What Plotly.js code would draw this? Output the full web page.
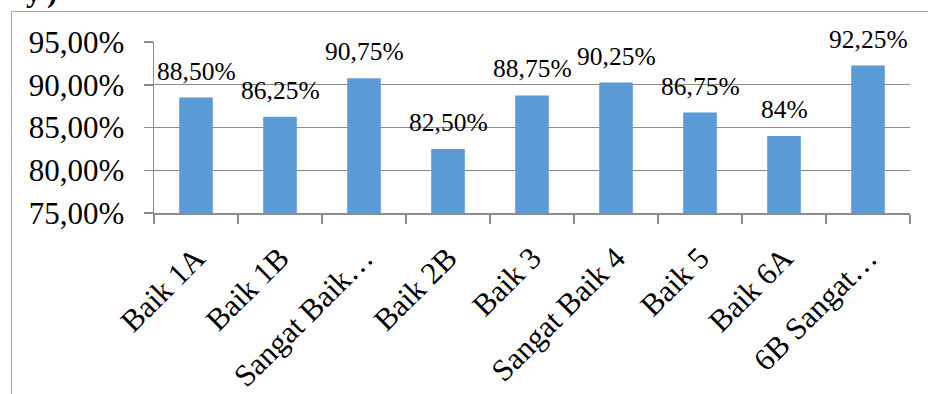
<!DOCTYPE html>
<html>
<head>
<meta charset="utf-8">
<script src="https://cdn.plot.ly/plotly-3.0.1.min.js"></script>
<style>
  html, body { margin:0; padding:0; background:#ffffff; overflow:hidden; }
  #chart { width:928px; height:394px; position:absolute; left:0; top:0; }
  #frame { position:absolute; left:11px; top:11px; width:1000px; height:1000px;
           border:1.5px solid #a6a6a6; pointer-events:none; box-sizing:border-box; }
  #cut { position:absolute; left:26px; top:-25px; font-family:"Liberation Serif", serif;
         font-weight:bold; font-size:30px; color:#000; letter-spacing:6px; }
</style>
</head>
<body>
<div id="chart"></div>
<div id="frame"></div>
<div id="cut">y)</div>
<script>
const categories = ["Baik 1A", "Baik 1B", "Sangat Baik…", "Baik 2B", "Baik 3", "Sangat Baik 4", "Baik 5", "Baik 6A", "6B Sangat…"];
const values = [88.5, 86.25, 90.75, 82.5, 88.75, 90.25, 86.75, 84, 92.25];
const valueLabels = ["88,50%", "86,25%", "90,75%", "82,50%", "88,75%", "90,25%", "86,75%", "84%", "92,25%"];
const yTickVals = [75, 80, 85, 90, 95];
const yTickText = ["75,00%", "80,00%", "85,00%", "90,00%", "95,00%"];

const fontFam = '"Liberation Serif", "Times New Roman", serif';

const trace = {
  type: 'bar',
  x: categories,
  y: values,
  marker: { color: '#5b9bd5' },
  width: 0.4,
  hoverinfo: 'none'
};

const annotations = categories.map((c, i) => ({
  x: c, y: values[i], xref: 'x', yref: 'y',
  text: valueLabels[i], showarrow: false,
  yanchor: 'bottom', yshift: 10,
  font: { family: fontFam, size: 25.5, color: '#000000' }
}));

const layout = {
  width: 928, height: 394,
  margin: { l: 154, r: 18, t: 42, b: 181, pad: 0 },
  paper_bgcolor: 'rgba(0,0,0,0)',
  plot_bgcolor: 'rgba(0,0,0,0)',
  showlegend: false,
  bargap: 0.6,
  xaxis: {
    type: 'category',
    tickson: 'boundaries',
    ticks: 'outside', ticklen: 9, tickcolor: '#8c8c8c', tickwidth: 1.5,
    showline: true, linecolor: '#8c8c8c', linewidth: 1.5,
    showgrid: false,
    tickangle: -45,
    ticklabelstandoff: 13,
    tickfont: { family: fontFam, size: 31, color: '#000000' },
    fixedrange: true
  },
  yaxis: {
    range: [75, 95],
    tickvals: yTickVals, ticktext: yTickText,
    ticks: 'outside', ticklen: 9, tickcolor: '#8c8c8c', tickwidth: 1.5,
    showline: true, linecolor: '#8c8c8c', linewidth: 1.5,
    showgrid: true, gridcolor: '#8c8c8c', gridwidth: 1.2,
    zeroline: false,
    ticklabelstandoff: 13,
    tickfont: { family: fontFam, size: 31, color: '#000000' },
    fixedrange: true
  },
  annotations: annotations
};

Plotly.newPlot('chart', [trace], layout, { displayModeBar: false, staticPlot: true });
</script>
</body>
</html>
